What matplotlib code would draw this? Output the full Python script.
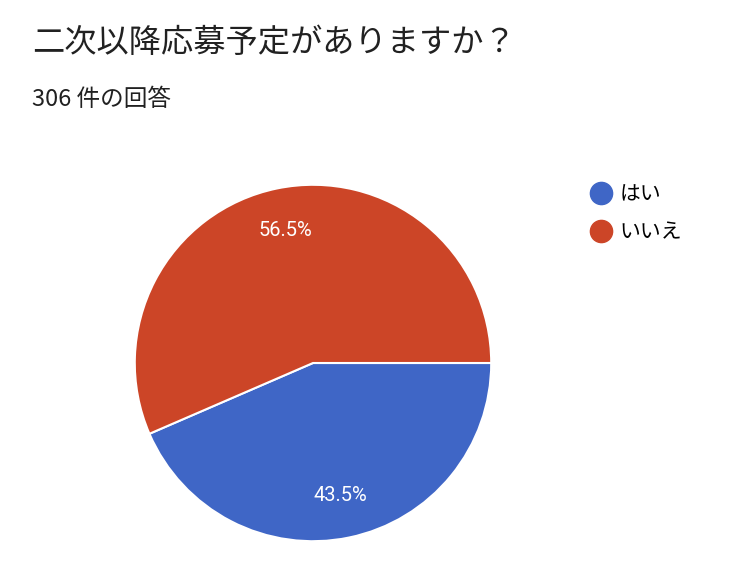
import matplotlib
matplotlib.use("Agg")
import matplotlib.pyplot as plt
from matplotlib.lines import Line2D

plt.rcParams['font.family'] = ['Noto Sans CJK JP', 'DejaVu Sans']

title = "二次以降応募予定がありますか？"
subtitle = "306 件の回答"
categories = ["はい", "いいえ"]
values = [43.5, 56.5]
colors = ["#3f66c6", "#cc4527"]

W, H = 741, 581
fig = plt.figure(figsize=(W / 100, H / 100), dpi=100)
fig.patch.set_facecolor("white")

fig.text(32 / W, 1 - 43 / H, title, fontsize=23.2, color="#212121", va="center", ha="left")
fig.text(32 / W, 1 - 100 / H, subtitle, fontsize=17, color="#212121", va="center", ha="left")

cx, cy, r = 313, 363, 180
ax = fig.add_axes([(cx - r) / W, (H - cy - r) / H, 2 * r / W, 2 * r / H])
wedges, texts, autotexts = ax.pie(
    values, colors=colors, startangle=0, counterclock=False,
    autopct="%1.1f%%", pctdistance=0.76,
    wedgeprops=dict(edgecolor="white", linewidth=1.5),
    textprops=dict(color="white", fontsize=14.5),
)
for t in autotexts:
    t.set_family(['Roboto', 'DejaVu Sans'])
ax.set_xlim(-1.01, 1.01)
ax.set_ylim(-1.01, 1.01)
ax.set_aspect("equal")
ax.axis("off")

handles = [Line2D([0], [0], marker="o", linestyle="", markersize=16,
                  markerfacecolor=c, markeredgecolor=c) for c in colors]
fig.legend(handles, categories, loc="upper left",
           bbox_to_anchor=(580 / W, 1 - 175 / H), frameon=False,
           fontsize=15, handletextpad=0.3, labelspacing=0.75,
           handlelength=1.2, borderaxespad=0)

fig.savefig("out.png", dpi=100, facecolor="white")
